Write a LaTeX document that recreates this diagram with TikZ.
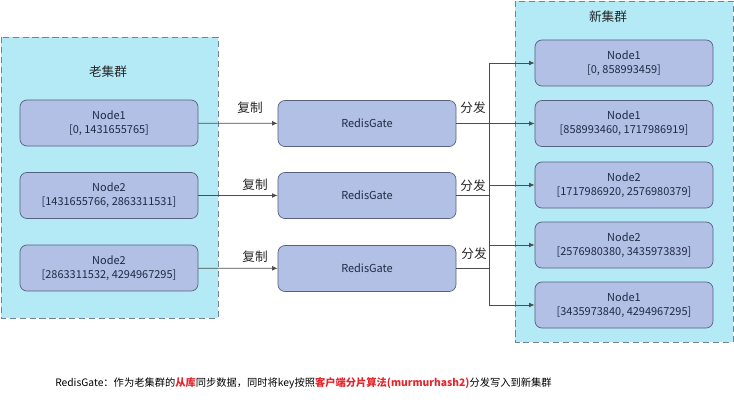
\documentclass[tikz,border=0pt]{standalone}
\usepackage{fontspec}
\setmainfont{Noto Sans CJK SC}
\usetikzlibrary{positioning, shapes, arrows.meta}
\definecolor{clfill}{HTML}{B4E9F6}
\definecolor{clline}{HTML}{6A8795}
\definecolor{ndfill}{HTML}{B3C0E6}
\definecolor{ndline}{HTML}{56617E}
\definecolor{ndtext}{HTML}{1E2A44}
\definecolor{wirecol}{HTML}{4D4D4D}
\definecolor{hot}{HTML}{E3262B}

\begin{document}
\begin{tikzpicture}[x = 0.025cm, y = -0.025cm,
	cluster/.style = {draw = clline, fill = clfill, dash pattern = on 4.3pt off 2.8pt, line width = 0.6pt},
	srv/.style = {draw = ndline, fill = ndfill, rounded corners = 5pt, minimum width = 4.45cm, minimum height = 1.15cm, inner sep = 0pt, align = center, text = ndtext, font = \fontsize{7.8}{9.8}\selectfont, line width = 0.5pt},
	tag/.style = {text = black!85, font = \fontsize{9}{10}\selectfont},
	wire/.style = {draw = wirecol, line width = 0.6pt},
	arr/.style = {wire, -{Latex[length = 4pt, width = 3.5pt]}}]
	\useasboundingbox (0, 0) rectangle (734, 409);

	\draw[cluster] (1, 37) rectangle (218, 318);
	\draw[cluster] (515, 1) rectangle (733, 342);

	\node[tag] (t1) at (108, 72) {老集群};
	\node[tag] (t2) at (608, 17) {新集群};

	\node[srv] (o1) at (109, 123) {Node1\\{[0, 1431655765]}};
	\node[srv] (o2) at (109, 195.5) {Node2\\{[1431655766, 2863311531]}};
	\node[srv] (o3) at (109, 268) {Node2\\{[2863311532, 4294967295]}};

	\node[srv] (g1) at (367, 123.5) {RedisGate};
	\node[srv] (g2) at (367, 195.5) {RedisGate};
	\node[srv] (g3) at (367, 268.5) {RedisGate};

	\node[srv] (n1) at (624, 63) {Node1\\{[0, 858993459]}};
	\node[srv] (n2) at (624, 123.5) {Node1\\{[858993460, 1717986919]}};
	\node[srv] (n3) at (624, 185) {Node2\\{[1717986920, 2576980379]}};
	\node[srv] (n4) at (624, 245) {Node2\\{[2576980380, 3435973839]}};
	\node[srv] (n5) at (624, 305) {Node1\\{[3435973840, 4294967295]}};

	\node[tag] (c1) at (250, 108) {复制};
	\node[tag] (c2) at (255, 185) {复制};
	\node[tag] (c3) at (255, 257) {复制};
	\node[tag] (f1) at (473, 108) {分发};
	\node[tag] (f2) at (473, 186) {分发};
	\node[tag] (f3) at (474, 254) {分发};

	\coordinate (bt) at (489, 63);
	\coordinate (bb) at (489, 305);

	\path
	(o1) edge[arr] (g1)
	(o2) edge[arr] (g2)
	(o3) edge[arr] (g3)

	(g1) edge[arr] (n2)
	(bt) edge[arr] (n1)
	(bt |- n3) edge[arr] (n3)
	(bt |- n4) edge[arr] (n4)
	(bb) edge[arr] (n5);

	\draw[wire] (bt) -- (bb);
	\draw[wire] (g2) -- (g2 -| bt);
	\draw[wire] (g3) -- (g3 -| bt);

	\node[anchor = west, inner sep = 0pt, font = \fontsize{7.3}{8.5}\selectfont] (cap) at (55, 383) {RedisGate：作为老集群的{\bfseries\color{hot}从库}同步数据，同时将key按照{\bfseries\color{hot}客户端分片算法(murmurhash2)}分发写入到新集群};

\end{tikzpicture}
\end{document}
